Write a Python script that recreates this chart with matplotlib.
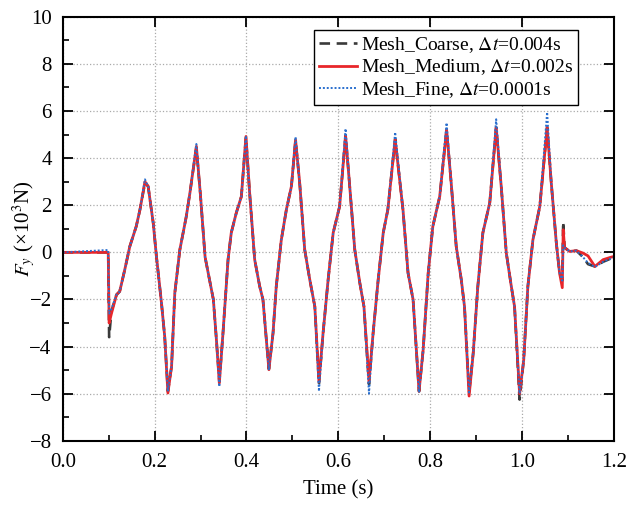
import matplotlib
matplotlib.use('Agg')
import matplotlib.pyplot as plt
from matplotlib.ticker import MultipleLocator, FormatStrFormatter

plt.rcParams['font.family'] = ['Liberation Serif', 'DejaVu Serif']
plt.rcParams['mathtext.fontset'] = 'stix'

# time (s), shared by all three runs
t = [0.000, 0.099, 0.101, 0.106, 0.117, 0.124, 0.135, 0.146, 0.160, 0.168,
     0.179, 0.186, 0.197, 0.204, 0.215, 0.222, 0.229, 0.237, 0.244, 0.255,
     0.269, 0.277, 0.291, 0.300, 0.310, 0.321, 0.328, 0.335, 0.341, 0.349,
     0.360, 0.367, 0.378, 0.389, 0.399, 0.407, 0.418, 0.429, 0.436, 0.444,
     0.449, 0.458, 0.465, 0.476, 0.487, 0.498, 0.507, 0.516, 0.527, 0.538,
     0.549, 0.558, 0.567, 0.578, 0.589, 0.603, 0.616, 0.625, 0.636, 0.647,
     0.656, 0.667, 0.676, 0.687, 0.698, 0.708, 0.724, 0.741, 0.752, 0.763,
     0.776, 0.785, 0.796, 0.806, 0.821, 0.836, 0.846, 0.857, 0.868, 0.875,
     0.885, 0.894, 0.904, 0.915, 0.930, 0.944, 0.955, 0.966, 0.977, 0.984,
     0.995, 1.004, 1.013, 1.024, 1.039, 1.055, 1.064, 1.075, 1.082, 1.088,
     1.090, 1.093, 1.104, 1.119, 1.133, 1.144, 1.159, 1.177, 1.195, 1.200]

# Fy (x10^3 N)
fy_medium = [0.0, 0.0, -3.0, -2.6, -1.8, -1.66, -0.74, 0.25, 1.1, 1.8,
             3.0, 2.8, 1.25, -0.17, -2.15, -3.57, -5.97, -4.84, -1.73, 0.11,
             1.52, 2.53, 4.5, 2.4, -0.2, -1.3, -2.0, -3.8, -5.55, -3.42,
             -0.31, 0.83, 1.68, 2.37, 4.92, 2.53, -0.31, -1.45, -2.0, -3.84,
             -4.98, -3.42, -1.45, 0.53, 1.81, 2.8, 4.78, 2.95, 0.11, -1.16,
             -2.3, -5.5, -3.42, -1.16, 0.83, 1.95, 4.95, 2.8, 0.11, -1.3,
             -2.3, -5.5, -3.42, -1.16, 0.83, 1.81, 4.8, 1.81, -0.87, -2.0,
             -5.9, -4.13, -0.87, 1.1, 2.37, 5.2, 2.95, 0.25, -1.16, -2.3,
             -6.1, -4.27, -1.45, 0.83, 2.1, 5.3, 2.8, -0.02, -1.45, -2.3,
             -6.0, -4.56, -1.45, 0.53, 1.95, 5.3, 2.95, 0.4, -0.87, -1.5,
             0.96, 0.2, 0.04, 0.07, -0.03, -0.15, -0.6, -0.31, -0.2, -0.18]

fy_coarse = [0.0, 0.0, -3.6, -2.5, -1.8, -1.66, -0.74, 0.25, 1.1, 1.8,
             2.95, 2.8, 1.25, -0.17, -2.15, -3.57, -5.9, -4.84, -1.73, 0.11,
             1.52, 2.53, 4.45, 2.4, -0.2, -1.3, -2.0, -3.8, -5.5, -3.42,
             -0.31, 0.83, 1.68, 2.37, 4.9, 2.53, -0.31, -1.45, -2.0, -3.84,
             -4.95, -3.42, -1.45, 0.53, 1.81, 2.8, 4.75, 2.95, 0.11, -1.16,
             -2.3, -5.6, -3.42, -1.16, 0.83, 1.95, 4.95, 2.8, 0.11, -1.3,
             -2.3, -5.6, -3.42, -1.16, 0.83, 1.81, 4.8, 1.81, -0.87, -2.0,
             -5.9, -4.13, -0.87, 1.1, 2.37, 5.2, 2.95, 0.25, -1.16, -2.3,
             -5.95, -4.27, -1.45, 0.83, 2.1, 5.3, 2.8, -0.02, -1.45, -2.3,
             -6.25, -4.56, -1.45, 0.53, 1.95, 5.3, 2.95, 0.4, -0.87, -1.2,
             1.31, 0.2, 0.04, 0.07, -0.2, -0.5, -0.6, -0.4, -0.25, -0.22]

fy_fine = [0.0, 0.1, -2.6, -2.4, -1.8, -1.66, -0.74, 0.25, 1.1, 1.8,
           3.1, 2.8, 1.25, -0.17, -2.15, -3.57, -5.9, -4.84, -1.73, 0.11,
           1.52, 2.53, 4.6, 2.4, -0.2, -1.3, -2.0, -3.8, -5.7, -3.42,
           -0.31, 0.83, 1.68, 2.37, 4.95, 2.53, -0.31, -1.45, -2.0, -3.84,
           -5.0, -3.42, -1.45, 0.53, 1.81, 2.8, 4.9, 2.95, 0.11, -1.16,
           -2.3, -5.9, -3.42, -1.16, 0.83, 1.95, 5.25, 2.8, 0.11, -1.3,
           -2.3, -6.0, -3.42, -1.16, 0.83, 1.81, 5.1, 1.81, -0.87, -2.0,
           -5.95, -4.13, -0.87, 1.1, 2.37, 5.5, 2.95, 0.25, -1.16, -2.3,
           -5.95, -4.27, -1.45, 0.83, 2.1, 5.65, 2.8, -0.02, -1.45, -2.3,
           -6.0, -4.56, -1.45, 0.53, 1.95, 5.95, 2.95, 0.4, -0.87, -1.2,
           0.3, 0.2, 0.04, 0.07, -0.2, -0.45, -0.62, -0.4, -0.25, -0.22]

labels = [r'Mesh_Coarse, $\Delta t$=0.004s',
          r'Mesh_Medium, $\Delta t$=0.002s',
          r'Mesh_Fine, $\Delta t$=0.0001s']

fig = plt.figure(figsize=(6.34, 5.09), dpi=100)
ax = fig.add_axes([0.099, 0.134, 0.869, 0.833])

ax.plot(t, fy_coarse, color='#3a3a3a', linestyle=(0, (4, 2.5)), linewidth=1.9, label=labels[0])
ax.plot(t, fy_medium, color='#e8262a', linestyle='-', linewidth=2.0, label=labels[1])
ax.plot(t, fy_fine, color='#2a6fce', linestyle=(0, (1, 1)), linewidth=1.4, label=labels[2])

ax.set_xlim(0, 1.2)
ax.set_ylim(-8, 10)
ax.xaxis.set_major_locator(MultipleLocator(0.2))
ax.xaxis.set_minor_locator(MultipleLocator(0.1))
ax.yaxis.set_major_locator(MultipleLocator(2))
ax.yaxis.set_minor_locator(MultipleLocator(1))
ax.xaxis.set_major_formatter(FormatStrFormatter('%.1f'))

ax.tick_params(which='major', direction='in', length=7, width=1.3, labelsize=15,
               top=True, right=True)
ax.tick_params(axis='x', which='major', pad=9)
ax.tick_params(axis='y', which='major', pad=8)
ax.tick_params(which='minor', direction='in', length=4, width=1.2,
               top=False, right=False)
for s in ax.spines.values():
    s.set_linewidth(1.5)

ax.grid(True, which='major', linestyle=':', color='#aaaaaa', linewidth=0.9)

ax.set_xlabel('Time (s)', fontsize=15, labelpad=6)
ax.set_ylabel(r'$F_y$ (×10$^3$N)', fontsize=15, labelpad=-6)

leg = ax.legend(loc='upper right', bbox_to_anchor=(0.936, 0.969), fontsize=14,
                fancybox=False, edgecolor='black', framealpha=1,
                handlelength=2.0, handletextpad=0.2, labelspacing=0.15,
                borderpad=0.25, borderaxespad=0)
leg.get_frame().set_linewidth(1.0)

fig.savefig('out.png', dpi=100)
